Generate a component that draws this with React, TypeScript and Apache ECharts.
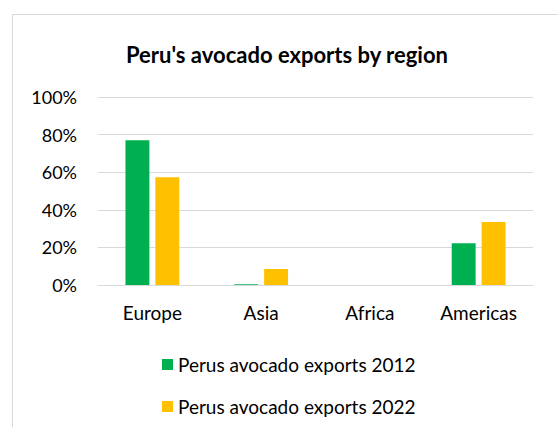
import React, { useEffect, useRef } from "react";
import * as echarts from "echarts";

const categories = ["Europe", "Asia", "Africa", "Americas"];
const exports2012 = [0.77, 0.004, 0, 0.222];
const exports2022 = [0.573, 0.085, 0, 0.335];
const seriesNames = ["Perus avocado exports 2012", "Perus avocado exports 2022"];
const titleText = "Peru's avocado exports by region";

const FONT = "Lato";

export default function App() {
  const ref = useRef<HTMLDivElement>(null);
  useEffect(() => {
    if (!ref.current) return;
    const chart = echarts.init(ref.current, undefined, { renderer: "svg" });
    chart.setOption({
      animation: false,
      backgroundColor: "#ffffff",
      textStyle: { fontFamily: FONT, color: "#000" },
      title: {
        text: titleText,
        left: 287,
        textAlign: "center",
        top: 43,
        padding: 0,
        textStyle: { fontFamily: FONT, fontWeight: "bold", fontSize: 22, color: "#000" },
      },
      graphic: [
        {
          type: "rect",
          shape: { x: 12.5, y: 14.5, width: 700, height: 500 },
          style: { fill: "none", stroke: "#D9D9D9", lineWidth: 1 },
          silent: true,
        },
      ],
      grid: { left: 98, right: 25, top: 97, bottom: 142, containLabel: false },
      xAxis: {
        type: "category",
        data: categories,
        axisLine: { lineStyle: { color: "#D9D9D9" } },
        axisTick: { show: false },
        axisLabel: { color: "#000", fontSize: 19, fontFamily: FONT, margin: 18 },
      },
      yAxis: {
        type: "value",
        min: 0,
        max: 1,
        interval: 0.2,
        axisLine: { show: false },
        axisTick: { show: false },
        splitLine: { lineStyle: { color: "#D9D9D9", width: 1 } },
        axisLabel: {
          color: "#000",
          fontSize: 18,
          fontFamily: FONT,
          margin: 21,
          formatter: (v: number) => Math.round(v * 100) + "%",
        },
      },
      legend: {
        orient: "vertical",
        left: 162,
        top: 355,
        padding: 0,
        itemWidth: 11,
        itemHeight: 11,
        itemGap: 23,
        icon: "rect",
        textStyle: { color: "#000", fontSize: 19, fontFamily: FONT },
        data: seriesNames,
      },
      series: [
        {
          name: seriesNames[0],
          type: "bar",
          data: exports2012,
          itemStyle: { color: "#00B050" },
          barWidth: "22%",
          barGap: "25%",
        },
        {
          name: seriesNames[1],
          type: "bar",
          data: exports2022,
          itemStyle: { color: "#FFC000" },
          barWidth: "22%",
          barGap: "25%",
        },
      ],
    });
    return () => chart.dispose();
  }, []);
  return (
    <div
      ref={ref}
      style={{ position: "fixed", left: 0, top: 0, width: 558, height: 427 }}
    />
  );
}
